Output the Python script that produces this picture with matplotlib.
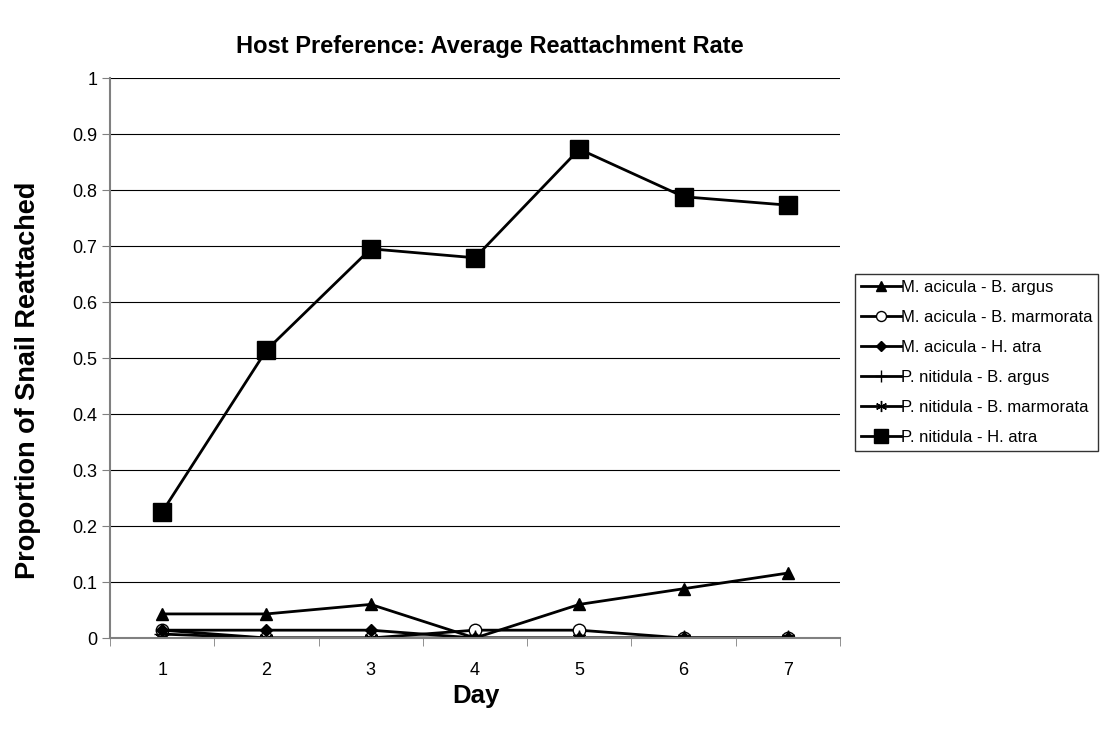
import matplotlib
matplotlib.use("Agg")
import matplotlib.pyplot as plt

plt.rcParams['font.family'] = ['Liberation Sans', 'DejaVu Sans']

days = [1, 2, 3, 4, 5, 6, 7]
day_labels = ["1", "2", "3", "4", "5", "6", "7"]

ma_bargus = [0.043, 0.043, 0.06, 0.0, 0.06, 0.088, 0.116]
ma_bmarmorata = [0.014, 0.0, 0.0, 0.014, 0.014, 0.0, 0.0]
ma_hatra = [0.014, 0.014, 0.014, 0.0, 0.0, 0.0, 0.0]
pn_bargus = [0.007, 0.0, 0.0, 0.0, 0.0, 0.0, 0.0]
pn_bmarmorata = [0.0, 0.0, 0.0, 0.0, 0.0, 0.0, 0.0]
pn_hatra = [0.225, 0.514, 0.695, 0.679, 0.873, 0.788, 0.773]

series_names = ["M. acicula - B. argus", "M. acicula - B. marmorata",
                "M. acicula - H. atra", "P. nitidula - B. argus",
                "P. nitidula - B. marmorata", "P. nitidula - H. atra"]

fig = plt.figure(figsize=(11.02, 7.32), dpi=100)
ax = fig.add_axes([0.0998, 0.1284, 0.6625, 0.765])

ax.plot(days, ma_bargus, color="black", lw=2, marker="^", ms=9, label=series_names[0])
ax.plot(days, ma_bmarmorata, color="black", lw=2, marker="o", ms=9,
        markerfacecolor="white", label=series_names[1])
ax.plot(days, ma_hatra, color="black", lw=2, marker="D", ms=6.5, label=series_names[2])
ax.plot(days, pn_bargus, color="black", lw=2, marker="+", ms=11, mew=1, label=series_names[3])
ax.plot(days, pn_bmarmorata, color="black", lw=2, marker=(6, 2, 0), ms=10, mew=1,
        label=series_names[4])
ax.plot(days, pn_hatra, color="black", lw=2, marker="s", ms=13, label=series_names[5])

ax.set_xlim(0.5, 7.5)
ax.set_ylim(0, 1)
ax.set_yticks([i / 10 for i in range(11)])
ax.set_yticklabels(["0", "0.1", "0.2", "0.3", "0.4", "0.5", "0.6", "0.7", "0.8", "0.9", "1"])
ax.set_xticks(days)
ax.set_xticklabels(day_labels)
ax.set_xticks([d + 0.5 for d in range(0, 8)], minor=True)
ax.tick_params(axis="x", which="major", length=0, pad=17, labelsize=13)
ax.tick_params(axis="x", which="minor", length=6, color="#808080", direction="out")
ax.tick_params(axis="y", length=6, color="#808080", direction="out", labelsize=13, pad=3)
ax.grid(axis="y", color="black", lw=0.8)
ax.set_axisbelow(True)
for s in ["top", "right"]:
    ax.spines[s].set_visible(False)
for s in ["left", "bottom"]:
    ax.spines[s].set_color("#808080")
    ax.spines[s].set_linewidth(1.5)

fig.text(490 / 1102, 1 - 46 / 732, "Host Preference: Average Reattachment Rate",
         fontsize=17, fontweight="bold", ha="center", va="center")
fig.text(476 / 1102, 1 - 696 / 732, "Day", fontsize=18.5, fontweight="bold",
         ha="center", va="center")
fig.text(28 / 1102, 1 - 380 / 732, "Proportion of Snail Reattached", fontsize=19.5,
         fontweight="bold", ha="center", va="center", rotation=90)

leg = ax.legend(loc="upper left", bbox_to_anchor=(855 / 1102, 1 - 274 / 732),
                bbox_transform=fig.transFigure, fontsize=12, markerscale=0.8,
                frameon=True, fancybox=False, edgecolor="black", handlelength=2.4,
                handletextpad=0.0, borderpad=0.35, labelspacing=0.9, borderaxespad=0)
leg.get_frame().set_linewidth(1)

fig.savefig("out.png", dpi=100)
